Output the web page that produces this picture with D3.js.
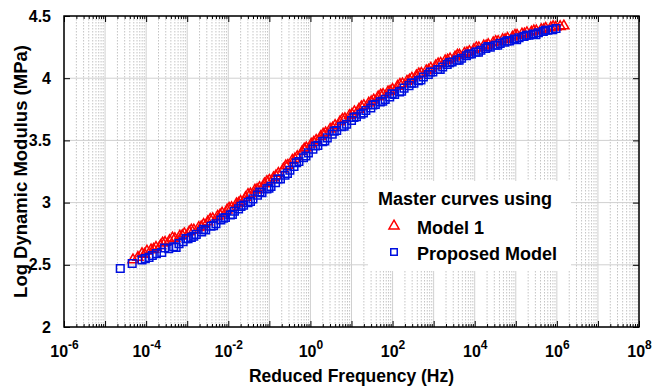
<!DOCTYPE html>
<html>
<head>
<meta charset="utf-8">
<script src="https://cdn.jsdelivr.net/npm/d3@7"></script>
<style>
  html, body { margin: 0; padding: 0; background: #fff; }
  svg { display: block; font-family: "Liberation Sans", Arial, Helvetica, sans-serif; font-weight: bold; }
</style>
</head>
<body>
<svg id="chart" width="667" height="387"></svg>
<script>
// Master curves: log10 of reduced frequency (Hz) and log dynamic modulus (MPa)
const model1LogFreq = [
  -4.32, -4.20, -4.10, -3.98, -3.88, -3.76, -3.65, -3.54, -3.43, -3.30,
  -3.18, -3.07, -2.95, -2.84, -2.72, -2.60, -2.50, -2.38, -2.26, -2.15,
  -2.03, -1.92, -1.80, -1.70, -1.58, -1.46, -1.35, -1.24, -1.12, -1.00,
  -0.90, -0.78, -0.66, -0.55, -0.44, -0.32, -0.20, -0.10, 0.02, 0.14,
  0.25, 0.37, 0.48, 0.60, 0.72, 0.84, 0.95, 1.07, 1.18, 1.30,
  1.42, 1.54, 1.65, 1.77, 1.89, 2.00, 2.12, 2.24, 2.35, 2.47,
  2.58, 2.70, 2.82, 2.93, 3.05, 3.17, 3.28, 3.40, 3.52, 3.63,
  3.75, 3.87, 3.98, 4.10, 4.22, 4.33, 4.45, 4.57, 4.68, 4.80,
  4.92, 5.03, 5.15, 5.27, 5.38, 5.50, 5.62, 5.73, 5.85, 5.97,
  6.08, 6.17,
  -4.04, -3.82, -3.60, -3.36, -3.12, -2.90, -2.66, -2.44, -2.20, -1.98,
  -1.75, -1.52, -1.30, -1.06, -0.84, -0.60, -0.38, -0.15, 0.08, 0.31,
  0.54, 0.78, 1.01, 1.24, 1.48, 1.71, 1.94, 2.18, 2.41, 2.64,
  2.88, 3.11, 3.34, 3.58, 3.81, 4.04, 4.28, 4.51, 4.74, 4.98,
  5.21, 5.44, 5.68, 5.91
];
const model1Modulus = [
  2.54, 2.56, 2.59, 2.61, 2.62, 2.64, 2.655, 2.68, 2.695, 2.71,
  2.73, 2.75, 2.765, 2.78, 2.80, 2.825, 2.845, 2.87, 2.89, 2.915,
  2.94, 2.96, 2.99, 3.01, 3.04, 3.07, 3.10, 3.12, 3.15, 3.18,
  3.20, 3.235, 3.27, 3.30, 3.34, 3.37, 3.41, 3.44, 3.47, 3.50,
  3.53, 3.56, 3.59, 3.62, 3.65, 3.675, 3.70, 3.73, 3.75, 3.78,
  3.80, 3.825, 3.85, 3.87, 3.89, 3.91, 3.935, 3.955, 3.975, 4.00,
  4.02, 4.04, 4.06, 4.08, 4.10, 4.12, 4.14, 4.155, 4.17, 4.185,
  4.20, 4.215, 4.23, 4.245, 4.26, 4.27, 4.285, 4.295, 4.31, 4.32,
  4.33, 4.345, 4.355, 4.365, 4.37, 4.38, 4.39, 4.40, 4.405, 4.41,
  4.415, 4.42,
  2.585, 2.625, 2.675, 2.715, 2.735, 2.78, 2.805, 2.865, 2.90, 2.955,
  2.995, 3.065, 3.105, 3.17, 3.215, 3.295, 3.35, 3.43, 3.485, 3.55,
  3.60, 3.67, 3.71, 3.77, 3.81, 3.865, 3.895, 3.95, 3.985, 4.035,
  4.065, 4.115, 4.145, 4.185, 4.205, 4.245, 4.26, 4.295, 4.31, 4.345,
  4.355, 4.38, 4.39, 4.415
];
const proposedLogFreq = [
  -4.63, -4.34, -4.10, -4.02, -3.93, -3.75, -3.62, -3.45, -3.33, -3.20,
  -3.10, -2.98, -2.90, -2.78, -2.65, -2.55, -2.42, -2.30, -2.18, -2.07,
  -1.95, -1.85, -1.75, -1.63, -1.52, -1.40, -1.29, -1.18, -1.06, -0.96,
  -0.85, -0.73, -0.62, -0.50, -0.40, -0.28, -0.17, -0.05, 0.06, 0.18,
  0.30, 0.41, 0.53, 0.64, 0.76, 0.88, 1.00, 1.12, 1.23, 1.35,
  1.47, 1.58, 1.70, 1.82, 1.93, 2.05, 2.17, 2.28, 2.40, 2.52,
  2.63, 2.75, 2.87, 2.98, 3.10, 3.22, 3.33, 3.45, 3.57, 3.68,
  3.80, 3.92, 4.03, 4.15, 4.27, 4.38, 4.50, 4.62, 4.73, 4.85,
  4.97, 5.08, 5.20, 5.32, 5.43, 5.55, 5.67, 5.78, 5.90, 5.98,
  -3.85, -3.55, -3.27, -3.03, -2.84, -2.60, -2.36, -2.12, -1.90, -1.69,
  -1.46, -1.23, -1.01, -0.79, -0.56, -0.34, -0.11, 0.12, 0.35, 0.58,
  0.82, 1.06, 1.29, 1.52, 1.76, 1.99, 2.22, 2.46, 2.69, 2.92,
  3.16, 3.39, 3.62, 3.86, 4.09, 4.32, 4.56, 4.79, 5.02, 5.26,
  5.49, 5.72
];
const proposedModulus = [
  2.47, 2.51, 2.54, 2.55, 2.56, 2.59, 2.60, 2.63, 2.645, 2.67,
  2.685, 2.71, 2.72, 2.745, 2.765, 2.78, 2.81, 2.83, 2.86, 2.88,
  2.90, 2.93, 2.95, 2.98, 3.00, 3.03, 3.06, 3.08, 3.11, 3.13,
  3.16, 3.19, 3.22, 3.26, 3.29, 3.33, 3.36, 3.40, 3.43, 3.46,
  3.49, 3.52, 3.55, 3.58, 3.61, 3.63, 3.66, 3.69, 3.71, 3.74,
  3.76, 3.79, 3.81, 3.83, 3.85, 3.87, 3.89, 3.92, 3.94, 3.96,
  3.98, 4.01, 4.03, 4.05, 4.07, 4.09, 4.11, 4.13, 4.145, 4.16,
  4.18, 4.195, 4.21, 4.225, 4.24, 4.25, 4.265, 4.28, 4.29, 4.30,
  4.315, 4.325, 4.335, 4.345, 4.355, 4.365, 4.375, 4.385, 4.39, 4.40,
  2.575, 2.635, 2.64, 2.71, 2.73, 2.785, 2.815, 2.875, 2.905, 2.97,
  3.01, 3.085, 3.115, 3.19, 3.235, 3.32, 3.375, 3.455, 3.495, 3.575,
  3.615, 3.685, 3.72, 3.785, 3.815, 3.875, 3.895, 3.96, 3.985, 4.05,
  4.07, 4.125, 4.145, 4.195, 4.21, 4.255, 4.265, 4.30, 4.31, 4.345,
  4.35, 4.385
];

// Axis ticks
const xDecadeExps = d3.range(-6, 9);            // every decade gets a major tick
const xLabelExps = [-6, -4, -2, 0, 2, 4, 6, 8];  // labelled decades
const yTickValues = [2, 2.5, 3, 3.5, 4, 4.5];
const yTickLabels = ["2", "2.5", "3", "3.5", "4", "4.5"];

const seriesNames = ["Model 1", "Proposed Model"];
const legendTitle = "Master curves using";
const xTitle = "Reduced Frequency (Hz)";
const yTitle = "Log Dynamic Modulus (MPa)";

const margin = { left: 64, right: 28, top: 16, bottom: 60 };
const W = 667, H = 387;
const x0 = margin.left, x1 = W - margin.right, y0 = margin.top, y1 = H - margin.bottom;

const x = d3.scaleLog().domain([1e-6, 1e8]).range([x0, x1]);
const y = d3.scaleLinear().domain([2, 4.5]).range([y1, y0]);

const svg = d3.select("#chart");

const decades = xDecadeExps.map(e => Math.pow(10, e));
const minors = [];
xDecadeExps.slice(0, -1).forEach(e => {
  for (let k = 2; k <= 9; k++) minors.push(k * Math.pow(10, e));
});

// Grid
const grid = svg.append("g");
grid.selectAll("line.minor").data(minors).join("line")
  .attr("x1", d => x(d)).attr("x2", d => x(d))
  .attr("y1", y0).attr("y2", y1)
  .attr("stroke", "#c4c4c4").attr("stroke-width", 1)
  .attr("stroke-dasharray", "1.5,1.5");
grid.selectAll("line.vmajor").data(decades).join("line")
  .attr("x1", d => x(d)).attr("x2", d => x(d))
  .attr("y1", y0).attr("y2", y1)
  .attr("stroke", "#d0d0d0").attr("stroke-width", 1);
grid.selectAll("line.hmajor").data(yTickValues).join("line")
  .attr("x1", x0).attr("x2", x1)
  .attr("y1", d => y(d)).attr("y2", d => y(d))
  .attr("stroke", "#d0d0d0").attr("stroke-width", 1);

// Data markers: Model 1 first, proposed model drawn over it
const red = "#ff0000", blue = "#0010e0";
const tri = d3.symbol().type(d3.symbolTriangle).size(44);
const sq = d3.symbol().type(d3.symbolSquare).size(58);

svg.append("g").selectAll("path").data(d3.zip(model1LogFreq, model1Modulus)).join("path")
  .attr("d", tri)
  .attr("transform", d => `translate(${x(Math.pow(10, d[0]))},${y(d[1])})`)
  .attr("fill", "none").attr("stroke", red).attr("stroke-width", 1.5);

svg.append("g").selectAll("path").data(d3.zip(proposedLogFreq, proposedModulus)).join("path")
  .attr("d", sq)
  .attr("transform", d => `translate(${x(Math.pow(10, d[0]))},${y(d[1])})`)
  .attr("fill", "none").attr("stroke", blue).attr("stroke-width", 1.5);

// Axes (ticks point inward on all four sides)
function styleAxis(g) {
  g.select(".domain").remove();
  g.selectAll(".tick line").attr("stroke", "#000").attr("stroke-width", 1);
}
svg.append("g").attr("transform", `translate(0,${y1})`)
  .call(d3.axisBottom(x).tickValues(minors).tickSizeInner(-3).tickSizeOuter(0).tickFormat(""))
  .call(styleAxis);
svg.append("g").attr("transform", `translate(0,${y0})`)
  .call(d3.axisTop(x).tickValues(minors).tickSizeInner(-3).tickSizeOuter(0).tickFormat(""))
  .call(styleAxis);
svg.append("g").attr("transform", `translate(0,${y0})`)
  .call(d3.axisTop(x).tickValues(decades).tickSizeInner(-6).tickSizeOuter(0).tickFormat(""))
  .call(styleAxis);
svg.append("g").attr("transform", `translate(${x1},0)`)
  .call(d3.axisRight(y).tickValues(yTickValues).tickSizeInner(-6).tickSizeOuter(0).tickFormat(""))
  .call(styleAxis);

const xAxis = svg.append("g").attr("transform", `translate(0,${y1})`)
  .call(d3.axisBottom(x).tickValues(decades).tickSizeInner(-6).tickSizeOuter(0)
    .tickPadding(0).tickFormat(() => ""))
  .call(styleAxis);
xAxis.selectAll(".tick").filter(d => xLabelExps.includes(Math.round(Math.log10(d))))
  .select("text")
  .attr("fill", "#000").attr("font-size", 16).attr("font-weight", "bold")
  .attr("font-family", "'Liberation Sans', Arial, sans-serif")
  .attr("text-anchor", "middle")
  .attr("y", 30).attr("dy", 0)
  .each(function (d) {
    const t = d3.select(this);
    t.append("tspan").text("10");
    t.append("tspan").attr("font-size", 12).attr("dy", -8).text(String(Math.round(Math.log10(d))));
  });

const yAxis = svg.append("g").attr("transform", `translate(${x0},0)`)
  .call(d3.axisLeft(y).tickValues(yTickValues).tickSizeInner(-6).tickSizeOuter(0)
    .tickPadding(13).tickFormat((d, i) => yTickLabels[i]))
  .call(styleAxis);
yAxis.selectAll(".tick text")
  .attr("fill", "#000").attr("font-size", 16).attr("font-weight", "bold")
  .attr("font-family", "'Liberation Sans', Arial, sans-serif");

// Frame
svg.append("rect").attr("x", x0).attr("y", y0).attr("width", x1 - x0).attr("height", y1 - y0)
  .attr("fill", "none").attr("stroke", "#000").attr("stroke-width", 1.5);

// Axis titles
svg.append("text").attr("x", (x0 + x1) / 2).attr("y", 382)
  .attr("text-anchor", "middle").attr("font-size", 17.5).text(xTitle);
svg.append("text").attr("transform", `translate(27,${(y0 + y1) / 2}) rotate(-90)`)
  .attr("text-anchor", "middle").attr("font-size", 18.5).text(yTitle);

// Legend
const lg = svg.append("g");
lg.append("rect").attr("x", 368).attr("y", 181).attr("width", 203).attr("height", 90).attr("fill", "#fff");
lg.append("text").attr("x", 378).attr("y", 205).attr("font-size", 18).text(legendTitle);
lg.append("path").attr("d", tri).attr("transform", "translate(394,226)")
  .attr("fill", "none").attr("stroke", red).attr("stroke-width", 1.5);
lg.append("text").attr("x", 417).attr("y", 234).attr("font-size", 18).text(seriesNames[0]);
lg.append("path").attr("d", d3.symbol().type(d3.symbolSquare).size(42)).attr("transform", "translate(394,252)")
  .attr("fill", "none").attr("stroke", blue).attr("stroke-width", 1.5);
lg.append("text").attr("x", 417).attr("y", 260).attr("font-size", 18).text(seriesNames[1]);
</script>
</body>
</html>
